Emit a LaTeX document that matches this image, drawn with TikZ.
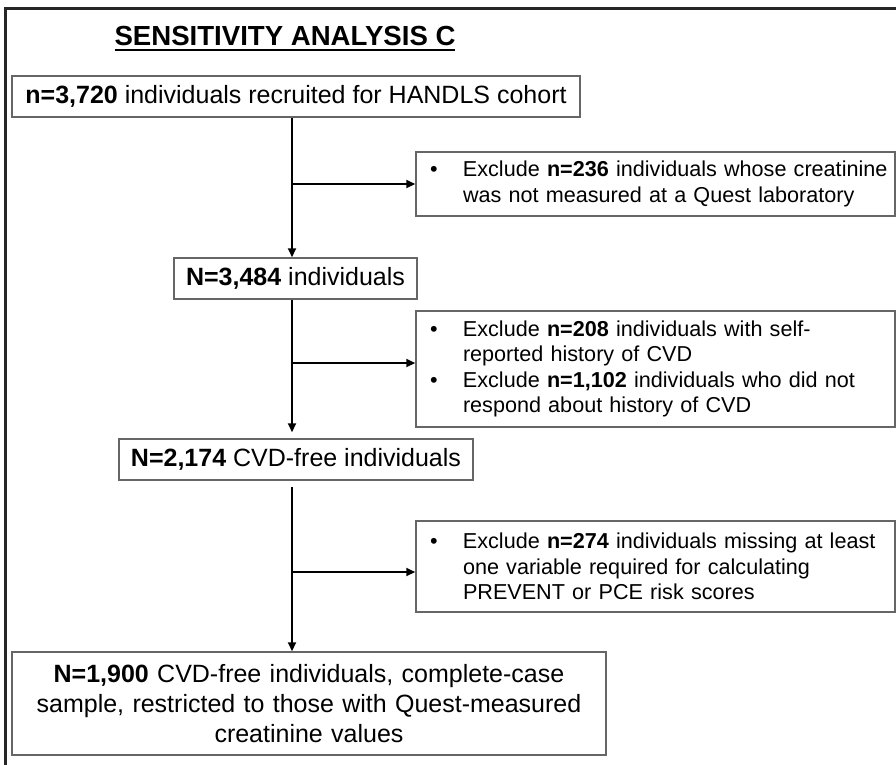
\documentclass[tikz,border=0pt]{standalone}
\usepackage{fontspec}
\setmainfont{Liberation Sans}
\usetikzlibrary{calc,positioning}
\usetikzlibrary{arrows.meta}
\newcommand{\ulined}[1]{\vtop{\hbox{#1}\kern4pt\hrule height 2pt}}
\newcommand{\bul}{\hspace*{10pt}\makebox[33pt][l]{\textbullet}}
\newcommand{\ind}{\hspace*{43pt}}
\tikzstyle{stage}=[draw=black!60, line width=1.5pt, minimum height=41pt, align=center, inner sep=0pt, font=\fontsize{25}{30}\selectfont]
\tikzstyle{exclusion}=[stage, text width=471pt, inner xsep=4pt, align=left, font=\fontsize{21.6}{25.5}\selectfont]
\tikzstyle{flow}=[-{Triangle[length=9pt,width=8pt]}, line width=2pt, black]
\tikzstyle{panel}=[draw=black!85, line width=2.5pt]
\begin{document}
\begin{tikzpicture}[x=1pt, y=-1pt]
\path [use as bounding box, clip] (0,0) rectangle (896,764);
\draw [panel] (5.5,8.5) rectangle (900,768);

\node (title) [anchor=base, font=\fontsize{27.6}{33}\selectfont\bfseries] at (285,45) {\ulined{SENSITIVITY ANALYSIS C}};

\node (box1) [stage, minimum width=568pt] at (296,96.5) {\textbf{n=3,720} individuals recruited for HANDLS cohort};
\node (box2) [stage, minimum width=243pt] at (295.5,278.5) {\textbf{N=3,484} individuals};
\node (box3) [stage, minimum width=354pt] at (296,459.5) {\textbf{N=2,174} CVD-free individuals};
\node (box4) [stage, minimum height=103pt, text width=570pt, inner xsep=12pt] at (309,703.5) {\textbf{N=1,900} CVD-free individuals, complete-case\\sample, restricted to those with Quest-measured\\creatinine values};

\node (excl1) [exclusion, minimum height=64pt] at (655.5,184) {\bul Exclude \textbf{n=236} individuals whose creatinine\\\ind was not measured at a Quest laboratory};
\node (excl2) [exclusion, minimum height=116pt] at (655.5,369) {\bul Exclude \textbf{n=208} individuals with self-\\\ind reported history of CVD\\\bul Exclude \textbf{n=1,102} individuals who did not\\\ind respond about history of CVD};
\node (excl3) [exclusion, minimum height=91pt] at (655.5,566.5) {\bul Exclude \textbf{n=274} individuals missing at least\\\ind one variable required for calculating\\\ind PREVENT or PCE risk scores};

\coordinate (spine) at (292,0);
\coordinate (in1) at (excl1.west);
\coordinate (in2) at ([yshift=6pt]excl2.west);
\coordinate (in3) at ([yshift=-5.5pt]excl3.west);

\draw [flow] (spine |- box1.south) -- (spine |- box2.north);
\draw [flow, shorten >=6pt] (spine |- box2.south) -- (spine |- box3.north);
\draw [flow, shorten <=6pt] (spine |- box3.south) -- (spine |- box4.north);

\draw [flow] (spine |- in1) -- (in1);
\draw [flow] (spine |- in2) -- (in2);
\draw [flow] (spine |- in3) -- (in3);
\end{tikzpicture}
\end{document}
